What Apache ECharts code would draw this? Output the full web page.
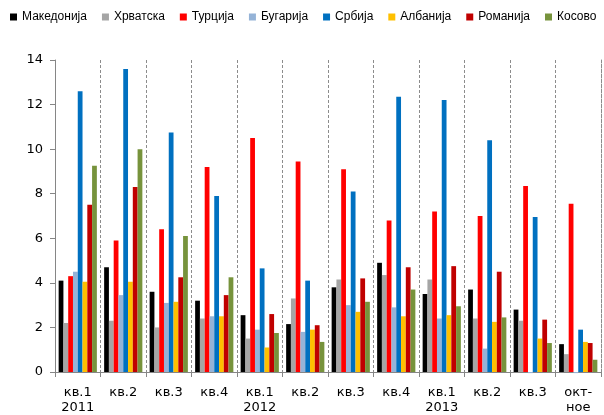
<!DOCTYPE html>
<html>
<head>
<meta charset="utf-8">
<script src="https://cdn.jsdelivr.net/npm/echarts@6/dist/echarts.min.js"></script>
<style>
  html, body { margin: 0; padding: 0; background: #fff; }
  #chart { width: 604px; height: 415px; }
</style>
</head>
<body>
<div id="chart"></div>
<script>
// Quarterly periods on the category axis
const categories = ['кв.1\n2011', 'кв.2', 'кв.3', 'кв.4', 'кв.1\n2012', 'кв.2', 'кв.3', 'кв.4', 'кв.1\n2013', 'кв.2', 'кв.3', 'окт-\nное'];

// One value per period for each country
const makedonija = [4.1, 4.7, 3.6, 3.2, 2.55, 2.15, 3.8, 4.9, 3.5, 3.7, 2.8, 1.25];
const hrvatska   = [2.2, 2.3, 2.0, 2.4, 1.5, 3.3, 4.15, 4.35, 4.15, 2.4, 2.3, 0.8];
const turcija    = [4.3, 5.9, 6.4, 9.2, 10.5, 9.45, 9.1, 6.8, 7.2, 7.0, 8.35, 7.55];
const bugarija   = [4.5, 3.45, 3.1, 2.5, 1.9, 1.8, 3.0, 2.9, 2.4, 1.05, -0.05, -0.05];
const srbija     = [12.6, 13.6, 10.75, 7.9, 4.65, 4.1, 8.1, 12.35, 12.2, 10.4, 6.95, 1.9];
const albanija   = [4.05, 4.05, 3.15, 2.5, 1.1, 1.9, 2.7, 2.5, 2.55, 2.25, 1.5, 1.35];
const romanija   = [7.5, 8.3, 4.25, 3.45, 2.6, 2.1, 4.2, 4.7, 4.75, 4.5, 2.35, 1.3];
const kosovo     = [9.25, 10.0, 6.1, 4.25, 1.75, 1.35, 3.15, 3.7, 2.95, 2.45, 1.3, 0.55];

// Y-axis tick settings
const yMin = 0, yMax = 14, yStep = 2;

const seriesDefs = [
  { name: 'Македонија', data: makedonija, color: '#000000' },
  { name: 'Хрватска',   data: hrvatska,   color: '#A5A5A5' },
  { name: 'Турција',    data: turcija,    color: '#FF0000' },
  { name: 'Бугарија',   data: bugarija,   color: '#95B3D7' },
  { name: 'Србија',     data: srbija,     color: '#0070C0' },
  { name: 'Албанија',   data: albanija,   color: '#FFC000' },
  { name: 'Романија',   data: romanija,   color: '#C00000' },
  { name: 'Косово',     data: kosovo,     color: '#77933C' }
];

const axisFont = 'DejaVu Sans';
const legendFont = 'Liberation Sans';
const axisGray = '#868686';
const chart = echarts.init(document.getElementById('chart'), null, { renderer: 'canvas' });

chart.setOption({
  animation: false,
  backgroundColor: '#ffffff',
  legend: {
    top: 11,
    left: 10,
    width: 594,
    padding: 0,
    itemWidth: 7,
    itemHeight: 7,
    itemGap: 15,
    icon: 'rect',
    textStyle: { fontFamily: legendFont, fontSize: 12, color: '#000' },
    data: seriesDefs.map(s => s.name)
  },
  grid: { left: 55, right: 3, top: 60, bottom: 43, containLabel: false },
  xAxis: {
    type: 'category',
    data: categories,
    boundaryGap: true,
    axisLine: { show: true, lineStyle: { color: axisGray, width: 1 } },
    axisTick: { show: true, length: 5, lineStyle: { color: axisGray } },
    axisLabel: { fontFamily: axisFont, fontSize: 13, color: '#000', margin: 13, lineHeight: 15, interval: 0 },
    splitLine: { show: true, lineStyle: { color: '#8c8c8c', type: [3, 2], width: 1 } }
  },
  yAxis: [
    {
      type: 'value',
      min: yMin,
      max: yMax,
      interval: yStep,
      axisLine: { show: true, lineStyle: { color: axisGray, width: 1 } },
      axisTick: { show: true, length: 5, lineStyle: { color: axisGray } },
      axisLabel: { fontFamily: axisFont, fontSize: 13, color: '#000', margin: 12 },
      splitLine: { show: false }
    },
    {
      // dashed closing border on the right edge of the plot
      type: 'value',
      position: 'right',
      min: yMin,
      max: yMax,
      interval: yStep,
      axisLine: { show: true, lineStyle: { color: '#8c8c8c', type: [3, 2], width: 1 } },
      axisTick: { show: false },
      axisLabel: { show: false },
      splitLine: { show: false }
    }
  ],
  series: seriesDefs.map(s => ({
    name: s.name,
    type: 'bar',
    data: s.data,
    barGap: '0%',
    barCategoryGap: '16%',
    clip: false,
    itemStyle: { color: s.color }
  }))
});
</script>
</body>
</html>
